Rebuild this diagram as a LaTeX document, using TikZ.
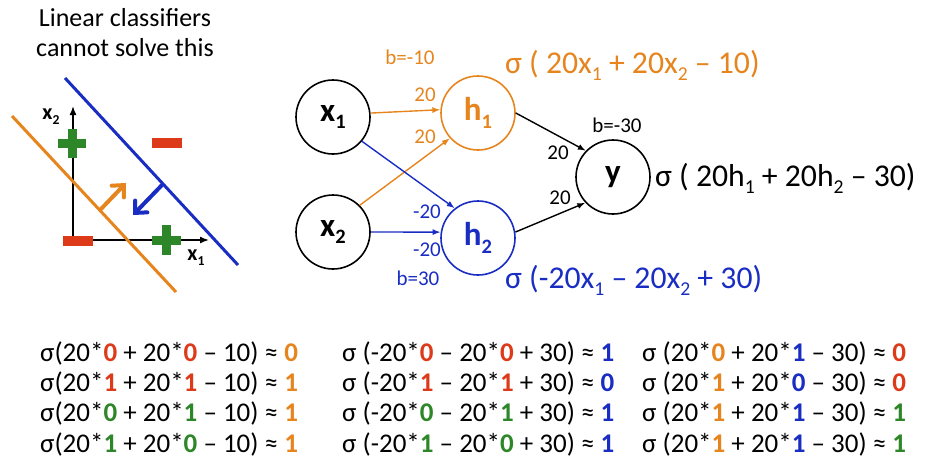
\documentclass[tikz,border=0pt]{standalone}
\usepackage{fontspec}
\setmainfont{Carlito}
\usetikzlibrary{arrows.meta}
\definecolor{orng}{RGB}{230,132,30}
\definecolor{blu}{RGB}{25,45,195}
\definecolor{rd}{RGB}{220,58,25}
\definecolor{grn}{RGB}{45,135,40}
\newcommand{\lo}[1]{\raisebox{-0.22em}{\scalebox{0.62}{#1}}}
\newcommand{\B}[2]{\textcolor{#1}{\bfseries #2}}
\begin{document}
\begin{tikzpicture}[x=1pt,y=-1pt,
 neuron/.style={circle, draw, line width=1.6pt, minimum size=74pt, inner sep=0pt, font=\fontsize{33}{35}\selectfont\bfseries},
 conn/.style={line width=1.4pt, -{Latex[length=8pt,width=6pt]}},
 wlab/.style={font=\fontsize{21}{24}\selectfont, inner sep=0pt},
 eq/.style={font=\fontsize{27}{30}\selectfont, anchor=base west, inner sep=0pt},
 big/.style={font=\fontsize{31.7}{34}\selectfont, anchor=west, inner sep=0pt},
 ttl/.style={font=\fontsize{26}{28}\selectfont, inner sep=0pt},
 axlab/.style={font=\fontsize{22}{24}\selectfont\bfseries, inner sep=0pt},
 sep/.style={line width=3pt},
 push/.style={line width=4pt, line cap=round, -{Straight Barb[length=9pt,width=17pt,line cap=round]}},
 ]
\useasboundingbox (0,0) rectangle (925,459);

% ---- left panel ----
\node[ttl] (t1) at (125,18) {Linear classifiers};
\node[ttl] (t2) at (125,48) {cannot solve this};

\coordinate (o) at (73,240);
\coordinate (ytop) at (73,106);
\coordinate (xend) at (209,240);
\draw[line width=1.5pt, -{Latex[length=9pt,width=7pt]}] (o) -- (ytop);
\draw[line width=1.5pt, -{Latex[length=9pt,width=7pt]}] (o) -- (xend);
\node[axlab] (lx2) at (51,117) {x\lo{2}};
\node[axlab] (lx1) at (196,258) {x\lo{1}};

\coordinate (oa) at (12,116);
\coordinate (ob) at (176,292);
\coordinate (ba) at (65,78);
\coordinate (bb) at (238,265);
\draw[sep, orng] (oa) -- (ob);
\draw[sep, blu] (ba) -- (bb);

\coordinate (op) at (101,209);
\coordinate (oq) at (126,183);
\coordinate (bp) at (162,185);
\coordinate (bq) at (133,215);
\draw[push, orng] (op) -- (oq);
\draw[push, blu] (bp) -- (bq);

% markers
\fill[grn] (58,139) rectangle (86,148);
\fill[grn] (67.5,129) rectangle (76.5,158);
\fill[grn] (152,235.5) rectangle (181,244.5);
\fill[grn] (162,225) rectangle (171,255);
\fill[rd] (152,137.5) rectangle (182,147.5);
\fill[rd] (63,235.5) rectangle (93,245.5);

% ---- network ----
\node[neuron] (x1) at (333,117) {x\lo{1}};
\node[neuron] (x2) at (333,232) {x\lo{2}};
\node[neuron, draw=orng, text=orng] (h1) at (478,113) {h\lo{1}};
\node[neuron, draw=blu, text=blu] (h2) at (478,238) {h\lo{2}};
\node[neuron] (y) at (613,177) {y};

\draw[conn, orng] (x1.6) -- (h1.175);
\draw[conn, orng] (x2.45) -- (h1.222);
\draw[conn, blu] (x1.-40) -- (h2.128);
\draw[conn, blu] (x2.east) -- (h2.171);
\draw[conn] (h1.east) -- (y.136);
\draw[conn] (h2.9) -- (y.223);

\node[wlab, orng] (bh1) at (410,57) {b=-10};
\node[wlab, orng] (w11) at (425,95) {20};
\node[wlab, orng] (w21) at (425,137) {20};
\node[wlab, blu] (w12) at (427,212) {-20};
\node[wlab, blu] (w22) at (427,250) {-20};
\node[wlab, blu] (bh2) at (418,278) {b=30};
\node[wlab] (wy1) at (558,153) {20};
\node[wlab] (wy2) at (560,198) {20};
\node[wlab] (by) at (617,125) {b=-30};

\node[big, orng] (f1) at (505,65) {σ ( 20x\lo{1} + 20x\lo{2} – 10)};
\node[big] (fy) at (655,178) {σ ( 20h\lo{1} + 20h\lo{2} – 30)};
\node[big, blu] (f2) at (505,280) {σ (-20x\lo{1} – 20x\lo{2} + 30)};

% ---- equations ----
\node[eq] (a1) at (40,361) {σ(20*\B{rd}{0} + 20*\B{rd}{0} – 10) ≈ \B{orng}{0}};
\node[eq] (a2) at (40,391) {σ(20*\B{rd}{1} + 20*\B{rd}{1} – 10) ≈ \B{orng}{1}};
\node[eq] (a3) at (40,421) {σ(20*\B{grn}{0} + 20*\B{grn}{1} – 10) ≈ \B{orng}{1}};
\node[eq] (a4) at (40,452) {σ(20*\B{grn}{1} + 20*\B{grn}{0} – 10) ≈ \B{orng}{1}};

\node[eq] (b1) at (342,361) {σ (-20*\B{rd}{0} – 20*\B{rd}{0} + 30) ≈ \B{blu}{1}};
\node[eq] (b2) at (342,391) {σ (-20*\B{rd}{1} – 20*\B{rd}{1} + 30) ≈ \B{blu}{0}};
\node[eq] (b3) at (342,421) {σ (-20*\B{grn}{0} – 20*\B{grn}{1} + 30) ≈ \B{blu}{1}};
\node[eq] (b4) at (342,452) {σ (-20*\B{grn}{1} – 20*\B{grn}{0} + 30) ≈ \B{blu}{1}};

\node[eq] (c1) at (642,361) {σ (20*\B{orng}{0} + 20*\B{blu}{1} – 30) ≈ \B{rd}{0}};
\node[eq] (c2) at (642,391) {σ (20*\B{orng}{1} + 20*\B{blu}{0} – 30) ≈ \B{rd}{0}};
\node[eq] (c3) at (642,421) {σ (20*\B{orng}{1} + 20*\B{blu}{1} – 30) ≈ \B{grn}{1}};
\node[eq] (c4) at (642,452) {σ (20*\B{orng}{1} + 20*\B{blu}{1} – 30) ≈ \B{grn}{1}};
\end{tikzpicture}
\end{document}
